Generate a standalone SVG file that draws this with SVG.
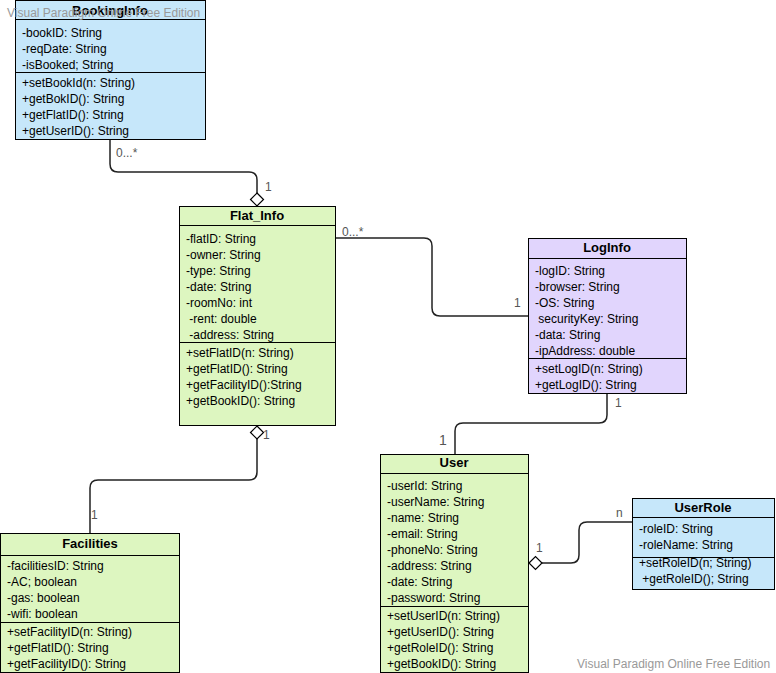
<svg xmlns="http://www.w3.org/2000/svg" width="776" height="673" viewBox="0 0 776 673">
<style>
.box{stroke:#000;stroke-width:1}
.blue{fill:#c6e7fa}
.green{fill:#ddf6c0}
.purple{fill:#e1d5fd}
.t{font-family:"Liberation Sans",Arial,sans-serif;font-size:12px;fill:#000}
.h{font-family:"Liberation Sans",Arial,sans-serif;font-size:13px;font-weight:bold;fill:#000;text-anchor:middle}
.lbl{font-family:"Liberation Sans",Arial,sans-serif;font-size:12px;fill:#555}
.wm{font-family:"Liberation Sans",Arial,sans-serif;font-size:12px;fill:#999}
.c{fill:none;stroke:#222;stroke-width:1.5}
.dia{fill:#fff;stroke:#000;stroke-width:1.2}
</style>
<rect width="776" height="673" fill="#fff"/>
<g id="connectors">
<path class="c" d="M110,139 V164 Q110,172 118,172 H249 Q257,172 257,180 V193"/>
<path class="dia" d="M257,193 L263.5,199.5 L257,206 L250.5,199.5 Z"/>
<path class="c" d="M335,238 H424 Q432,238 432,246 V308 Q432,316 440,316 H528"/>
<path class="c" d="M607,393 V415 Q607,423 599,423 H463 Q455,423 455,431 V454"/>
<path class="c" d="M257,439 V472 Q257,480 249,480 H98 Q90,480 90,488 V533"/>
<path class="dia" d="M257,426 L263.5,432.5 L257,439 L250.5,432.5 Z"/>
<path class="c" d="M542,563 H571 Q579,563 579,555 V530 Q579,522 587,522 H632"/>
<path class="dia" d="M529,563 L535.5,556.5 L542,563 L535.5,569.5 Z"/>
<text class="lbl" x="116" y="157">0...*</text>
<text class="lbl" x="265" y="191">1</text>
<text class="lbl" x="342" y="236">0...*</text>
<text class="lbl" x="514" y="307">1</text>
<text class="lbl" x="615" y="407">1</text>
<text class="lbl" x="439" y="445" style="font-size:14px">1</text>
<text class="lbl" x="263" y="439">1</text>
<text class="lbl" x="91" y="519">1</text>
<text class="lbl" x="536" y="552">1</text>
<text class="lbl" x="616" y="517">n</text>
</g>
<g id="BookingInfo">
<rect class="box blue" x="15.5" y="0.5" width="190" height="139"/>
<line class="box" x1="15.5" y1="19.5" x2="205.5" y2="19.5"/>
<line class="box" x1="15.5" y1="72.5" x2="205.5" y2="72.5"/>
<text class="h" x="110" y="15">BookingInfo</text>
<text class="t" x="22" y="37">-bookID: String</text>
<text class="t" x="22" y="53">-reqDate: String</text>
<text class="t" x="22" y="69">-isBooked; String</text>
<text class="t" x="22" y="87">+setBookId(n: String)</text>
<text class="t" x="22" y="103">+getBokID(): String</text>
<text class="t" x="22" y="119">+getFlatID(): String</text>
<text class="t" x="22" y="135">+getUserID(): String</text>
</g>
<g id="Flat_Info">
<rect class="box green" x="179.5" y="206.5" width="156" height="219"/>
<line class="box" x1="179.5" y1="225.5" x2="335.5" y2="225.5"/>
<line class="box" x1="179.5" y1="342.5" x2="335.5" y2="342.5"/>
<text class="h" x="257" y="220">Flat_Info</text>
<text class="t" x="186" y="243">-flatID: String</text>
<text class="t" x="186" y="259">-owner: String</text>
<text class="t" x="186" y="275">-type: String</text>
<text class="t" x="186" y="291">-date: String</text>
<text class="t" x="186" y="307">-roomNo: int</text>
<text class="t" x="186" y="323" xml:space="preserve"> -rent: double</text>
<text class="t" x="186" y="339" xml:space="preserve"> -address: String</text>
<text class="t" x="186" y="357">+setFlatID(n: String)</text>
<text class="t" x="186" y="373">+getFlatID(): String</text>
<text class="t" x="186" y="389">+getFacilityID():String</text>
<text class="t" x="186" y="405">+getBookID(): String</text>
</g>
<g id="LogInfo">
<rect class="box purple" x="528.5" y="238.5" width="158" height="155"/>
<line class="box" x1="528.5" y1="258.5" x2="686.5" y2="258.5"/>
<line class="box" x1="528.5" y1="358.5" x2="686.5" y2="358.5"/>
<text class="h" x="607" y="252">LogInfo</text>
<text class="t" x="535" y="275">-logID: String</text>
<text class="t" x="535" y="291">-browser: String</text>
<text class="t" x="535" y="307">-OS: String</text>
<text class="t" x="535" y="323" xml:space="preserve"> securityKey: String</text>
<text class="t" x="535" y="339">-data: String</text>
<text class="t" x="535" y="355">-ipAddress: double</text>
<text class="t" x="535" y="373">+setLogID(n: String)</text>
<text class="t" x="535" y="389">+getLogID(): String</text>
</g>
<g id="User">
<rect class="box green" x="380.5" y="454.5" width="148" height="218"/>
<line class="box" x1="380.5" y1="473.5" x2="528.5" y2="473.5"/>
<line class="box" x1="380.5" y1="606.5" x2="528.5" y2="606.5"/>
<text class="h" x="454" y="467">User</text>
<text class="t" x="387" y="490">-userId: String</text>
<text class="t" x="387" y="506">-userName: String</text>
<text class="t" x="387" y="522">-name: String</text>
<text class="t" x="387" y="538">-email: String</text>
<text class="t" x="387" y="554">-phoneNo: String</text>
<text class="t" x="387" y="570">-address: String</text>
<text class="t" x="387" y="586">-date: String</text>
<text class="t" x="387" y="602">-password: String</text>
<text class="t" x="387" y="620">+setUserID(n: String)</text>
<text class="t" x="387" y="636">+getUserID(): String</text>
<text class="t" x="387" y="652">+getRoleID(): String</text>
<text class="t" x="387" y="668">+getBookID(): String</text>
</g>
<g id="UserRole">
<rect class="box blue" x="632.5" y="498.5" width="142" height="91"/>
<line class="box" x1="632.5" y1="517.5" x2="774.5" y2="517.5"/>
<line class="box" x1="632.5" y1="557.5" x2="774.5" y2="557.5"/>
<text class="h" x="703" y="512">UserRole</text>
<text class="t" x="639" y="533">-roleID: String</text>
<text class="t" x="639" y="549">-roleName: String</text>
<text class="t" x="639" y="567">+setRoleID(n; String)</text>
<text class="t" x="639" y="583" xml:space="preserve"> +getRoleID(); String</text>
</g>
<g id="Facilities">
<rect class="box green" x="0.5" y="533.5" width="179" height="139"/>
<line class="box" x1="0.5" y1="555.5" x2="179.5" y2="555.5"/>
<line class="box" x1="0.5" y1="622.5" x2="179.5" y2="622.5"/>
<text class="h" x="90" y="548">Facilities</text>
<text class="t" x="7" y="570">-facilitiesID: String</text>
<text class="t" x="7" y="586">-AC; boolean</text>
<text class="t" x="7" y="602">-gas: boolean</text>
<text class="t" x="7" y="618">-wifi: boolean</text>
<text class="t" x="7" y="636">+setFacilityID(n: String)</text>
<text class="t" x="7" y="652">+getFlatID(): String</text>
<text class="t" x="7" y="668">+getFacilityID(): String</text>
</g>
<text class="wm" x="7" y="17">Visual Paradigm Online Free Edition</text>
<text class="wm" x="577" y="668">Visual Paradigm Online Free Edition</text>
</svg>
